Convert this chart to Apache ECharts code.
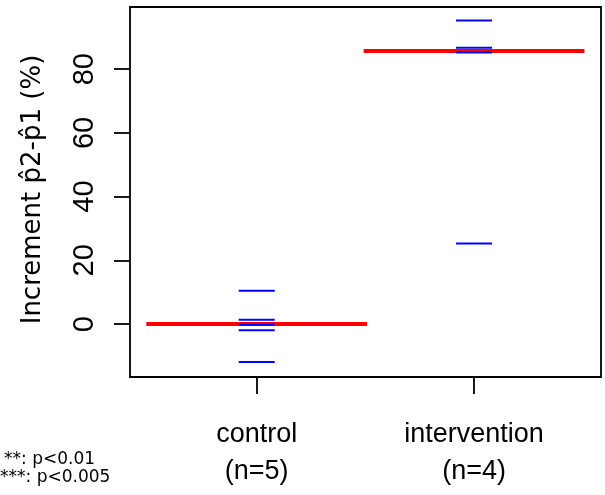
<!DOCTYPE html>
<html>
<head>
<meta charset="utf-8">
<script src="https://cdn.jsdelivr.net/npm/echarts@6/dist/echarts.min.js"></script>
<style>html,body{margin:0;padding:0;background:#fff}#c{width:605px;height:495px}</style>
</head>
<body>
<div id="c"></div>
<script>
const groups = ['control', 'intervention'];
const groupN = [5, 4];
const controlValues = [10.5, 1.4, -0.2, -1.9, -11.9];
const interventionValues = [95.3, 86.7, 85.2, 25.3];
const medianValues = [0, 85.7];
const yTicks = [0, 20, 40, 60, 80];
const xTicks = [1, 2];
const yLabel = 'Increment p\u03022-p\u03021 (%)';
const footnotes = ['**: p<0.01', '***: p<0.005'];

const pointData = [];
controlValues.forEach(v => pointData.push([1, v]));
interventionValues.forEach(v => pointData.push([2, v]));
const medianData = medianValues.map((v, i) => [i + 1, v]);

function segRender(halfWidth, color, width) {
  return function (params, api) {
    const x = api.value(0), y = api.value(1);
    const p1 = api.coord([x - halfWidth, y]);
    const p2 = api.coord([x + halfWidth, y]);
    return {
      type: 'line',
      shape: { x1: p1[0], y1: p1[1], x2: p2[0], y2: p2[1] },
      style: { stroke: color, lineWidth: width, lineCap: 'butt' }
    };
  };
}

const chart = echarts.init(document.getElementById('c'), null, { renderer: 'canvas' });
chart.setOption({
  animation: false,
  backgroundColor: '#fff',
  grid: { left: 130, right: 4, top: 7, bottom: 118, show: true, borderColor: '#000', borderWidth: 1.8, backgroundColor: 'transparent' },
  xAxis: {
    type: 'value', min: 0.417, max: 2.584, position: 'bottom',
    splitLine: { show: false },
    axisLine: { show: false, onZero: false },
    axisTick: { show: true, customValues: xTicks, length: 17, lineStyle: { color: '#000', width: 1.8 } },
    axisLabel: {
      customValues: xTicks, margin: 39, fontSize: 27, lineHeight: 37,
      fontFamily: 'Liberation Sans', color: '#000',
      formatter: v => groups[Math.round(v) - 1] + '\n(n=' + groupN[Math.round(v) - 1] + ')'
    }
  },
  yAxis: {
    type: 'value', min: -16.6, max: 99.5, position: 'left',
    splitLine: { show: false },
    axisLine: { show: false, onZero: false },
    axisTick: { show: true, customValues: yTicks, length: 16, lineStyle: { color: '#000', width: 1.8 } },
    axisLabel: {
      customValues: yTicks, rotate: 90, margin: 31, fontSize: 29,
      fontFamily: 'Liberation Sans', color: '#000'
    }
  },
  graphic: [
    { type: 'text', x: 33, y: 189.5, rotation: Math.PI / 2,
      style: { text: yLabel, fontFamily: 'DejaVu Sans', fontSize: 26, fill: '#000', align: 'center', verticalAlign: 'middle' } },
    { type: 'text', x: 4, y: 459.3,
      style: { text: footnotes[0], fontFamily: 'DejaVu Sans', fontSize: 17, fill: '#000', align: 'left', verticalAlign: 'middle' } },
    { type: 'text', x: 0, y: 477.3,
      style: { text: footnotes[1], fontFamily: 'DejaVu Sans', fontSize: 17, fill: '#000', align: 'left', verticalAlign: 'middle' } }
  ],
  series: [
    { type: 'custom', name: 'median', data: medianData, renderItem: segRender(0.508, '#ff0000', 4), clip: false },
    { type: 'custom', name: 'values', data: pointData, renderItem: segRender(0.083, '#0000ff', 2), clip: false }
  ]
});
</script>
</body>
</html>
